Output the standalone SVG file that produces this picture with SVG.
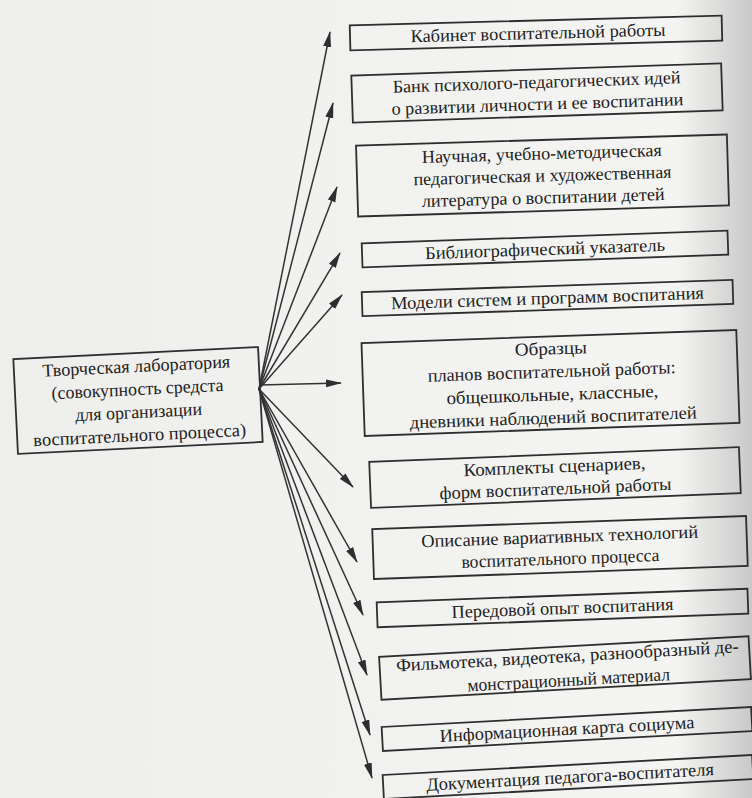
<svg xmlns="http://www.w3.org/2000/svg" width="752" height="798" viewBox="0 0 752 798">
<defs>
<linearGradient id="bg" x1="0" y1="0" x2="1" y2="0">
<stop offset="0" stop-color="#eeeeec"/>
<stop offset="0.9" stop-color="#f4f4f2"/>
<stop offset="1" stop-color="#c9c9c9"/>
</linearGradient>
<marker id="ah" markerUnits="userSpaceOnUse" markerWidth="16" markerHeight="9" refX="15" refY="4.5" orient="auto">
<path d="M0,0.5 L16,4.5 L0,8.5 z" fill="#2e2e2e"/>
</marker>
<style>
.box{fill:none;stroke:#2e2e2e;stroke-width:1.8}
.t{font-family:'Liberation Serif','DejaVu Serif',serif;font-size:18px;fill:#222;text-anchor:middle}
.c line{stroke:#333;stroke-width:1.5;marker-end:url(#ah)}
</style>
</defs>
<rect x="0" y="0" width="752" height="798" fill="url(#bg)"/>

<g id="root" transform="rotate(-2.8 138 400.5)">
<rect class="box" x="15.5" y="353" width="245" height="95"/>
<text class="t" font-family="Liberation Serif, DejaVu Serif, serif" x="138" y="372" textLength="188" lengthAdjust="spacingAndGlyphs">Творческая лаборатория</text>
<text class="t" font-family="Liberation Serif, DejaVu Serif, serif" x="138" y="395" textLength="172" lengthAdjust="spacingAndGlyphs">(совокупность средста</text>
<text class="t" font-family="Liberation Serif, DejaVu Serif, serif" x="138" y="418" textLength="127" lengthAdjust="spacingAndGlyphs">для организации</text>
<text class="t" font-family="Liberation Serif, DejaVu Serif, serif" x="138" y="441" textLength="213" lengthAdjust="spacingAndGlyphs">воспитательного процесса)</text>
</g>

<g id="n1" transform="rotate(-1.5 536 33)">
<rect class="box" x="350" y="20.5" width="372" height="25"/>
<text class="t" x="538" y="39" textLength="255" lengthAdjust="spacingAndGlyphs">Кабинет воспитательной работы</text>
</g>

<g id="n2" transform="rotate(-1.9 537 93)">
<rect class="box" x="352" y="69.5" width="370" height="47"/>
<text class="t" x="537" y="88" textLength="288" lengthAdjust="spacingAndGlyphs">Банк психолого-педагогических идей</text>
<text class="t" x="537" y="110" textLength="292" lengthAdjust="spacingAndGlyphs">о развитии личности и ее воспитании</text>
</g>

<g id="n3" transform="rotate(-1.7 542.5 175.5)">
<rect class="box" x="357" y="140" width="371" height="71"/>
<text class="t" x="542.5" y="159.5" textLength="240" lengthAdjust="spacingAndGlyphs">Научная, учебно-методическая</text>
<text class="t" x="542.5" y="181.5" textLength="258" lengthAdjust="spacingAndGlyphs">педагогическая и художественная</text>
<text class="t" x="542.5" y="203.5" textLength="243" lengthAdjust="spacingAndGlyphs">литература о воспитании детей</text>
</g>

<g id="n4" transform="rotate(-2 545 249)">
<rect class="box" x="362" y="237" width="366" height="24"/>
<text class="t" x="545" y="255" textLength="240" lengthAdjust="spacingAndGlyphs">Библиографический указатель</text>
</g>

<g id="n5" transform="rotate(-1.9 547.5 298)">
<rect class="box" x="362" y="286" width="371" height="24"/>
<text class="t" x="547.5" y="304" textLength="313" lengthAdjust="spacingAndGlyphs">Модели систем и программ воспитания</text>
</g>

<g id="n6" transform="rotate(-2 550.5 383)">
<rect class="box" x="363" y="336.5" width="375" height="93"/>
<text class="t" x="552" y="354.5" textLength="72" lengthAdjust="spacingAndGlyphs">Образцы</text>
<text class="t" x="552" y="377.5" textLength="248" lengthAdjust="spacingAndGlyphs">планов воспитательной работы:</text>
<text class="t" x="552" y="400.5" textLength="212" lengthAdjust="spacingAndGlyphs">общешкольные, классные,</text>
<text class="t" x="552" y="423.5" textLength="287" lengthAdjust="spacingAndGlyphs">дневники наблюдений воспитателей</text>
</g>

<g id="n7" transform="rotate(-2.3 555 477.5)">
<rect class="box" x="370" y="454.5" width="370" height="46"/>
<text class="t" x="555" y="472.5" textLength="182" lengthAdjust="spacingAndGlyphs">Комплекты сценариев,</text>
<text class="t" x="555" y="494.5" textLength="232" lengthAdjust="spacingAndGlyphs">форм воспитательной работы</text>
</g>

<g id="n8" transform="rotate(-2 560 547.5)">
<rect class="box" x="373" y="522.5" width="374" height="50"/>
<text class="t" x="560" y="542.5" textLength="277" lengthAdjust="spacingAndGlyphs">Описание вариативных технологий</text>
<text class="t" x="560" y="564.5" textLength="198" lengthAdjust="spacingAndGlyphs">воспитательного процесса</text>
</g>

<g id="n9" transform="rotate(-2.1 562.5 608)">
<rect class="box" x="377" y="595.5" width="371" height="25"/>
<text class="t" x="562.5" y="614" textLength="222" lengthAdjust="spacingAndGlyphs">Передовой опыт воспитания</text>
</g>

<g id="n10" transform="rotate(-3.2 565 668)">
<rect class="box" x="380" y="646.5" width="370" height="43"/>
<text class="t" x="568" y="662" textLength="343" lengthAdjust="spacingAndGlyphs">Фильмотека, видеотека, разнообразный де-</text>
<text class="t" x="568" y="686" textLength="203" lengthAdjust="spacingAndGlyphs">монстрационный материал</text>
</g>

<g id="n11" transform="rotate(-3.1 567 729)">
<rect class="box" x="382" y="717" width="370" height="24"/>
<text class="t" x="567" y="735" textLength="255" lengthAdjust="spacingAndGlyphs">Информационная карта социума</text>
</g>

<g id="n12" transform="rotate(-3.1 568 777)">
<rect class="box" x="383" y="765" width="370" height="24"/>
<text class="t" x="570" y="783" textLength="288" lengthAdjust="spacingAndGlyphs">Документация педагога-воспитателя</text>
</g>

<g id="connectors" class="c">
<line x1="259" y1="389" x2="330" y2="32"/>
<line x1="259" y1="389" x2="333" y2="103"/>
<line x1="259" y1="389" x2="337" y2="187"/>
<line x1="259" y1="389" x2="340" y2="253"/>
<line x1="259" y1="389" x2="342" y2="295"/>
<line x1="259" y1="385" x2="341" y2="383"/>
<line x1="259" y1="389" x2="353" y2="487"/>
<line x1="259" y1="389" x2="357" y2="562"/>
<line x1="259" y1="389" x2="363" y2="615"/>
<line x1="259" y1="389" x2="367" y2="675"/>
<line x1="259" y1="389" x2="370" y2="735"/>
<line x1="259" y1="389" x2="372" y2="778"/>
</g>
</svg>
